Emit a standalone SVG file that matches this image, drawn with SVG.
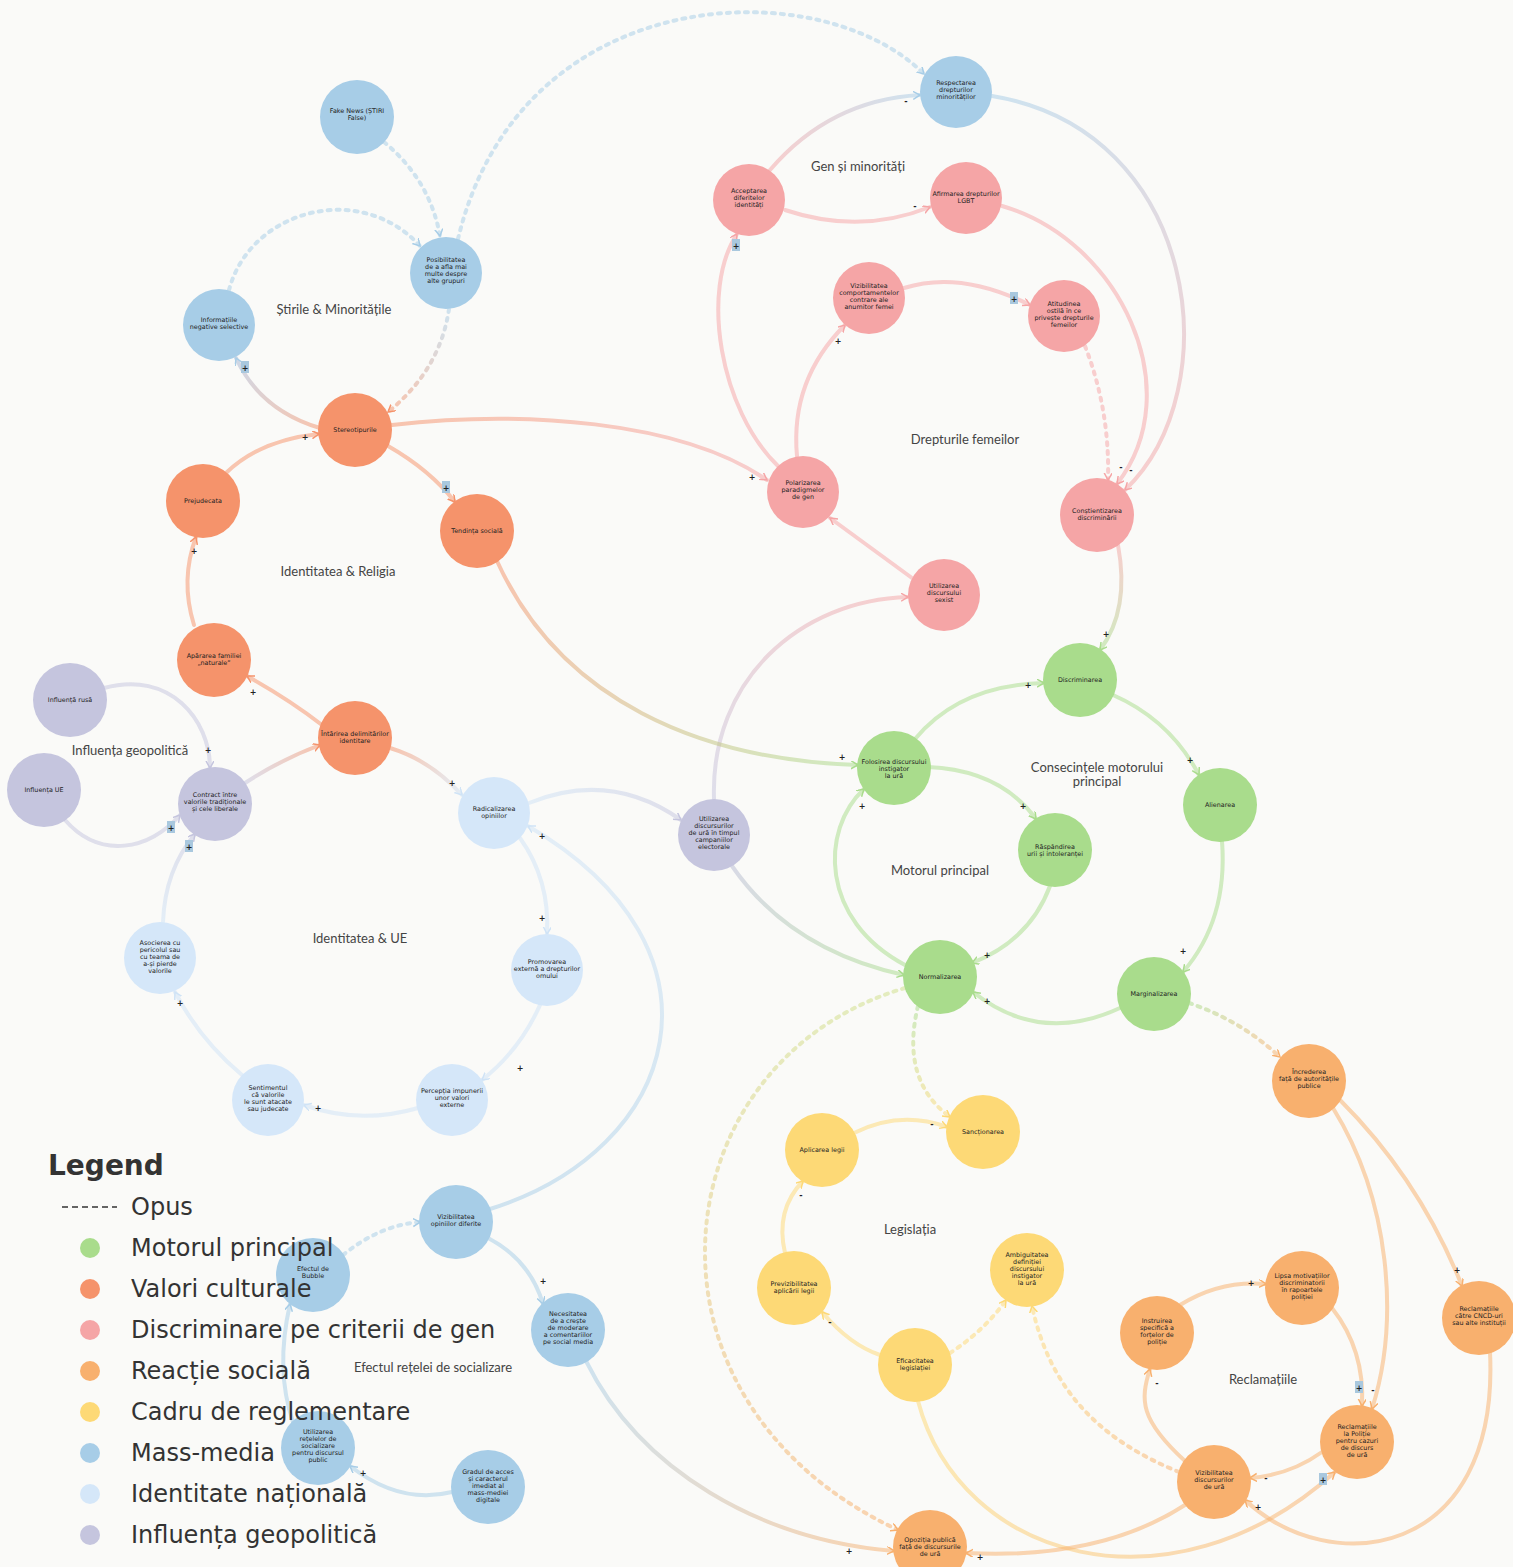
<svg xmlns="http://www.w3.org/2000/svg" width="1513" height="1567" viewBox="0 0 1513 1567">
<style>
.bg{fill:#fafaf8}
.e{fill:none;stroke-width:4;stroke-opacity:.52;stroke-linecap:round}
.d{stroke-dasharray:3 6}
.s1{stroke:#a9dc8c}.s2{stroke:#f5936b}.s3{stroke:#f5a5a6}.s4{stroke:#f8b06e}.s5{stroke:#fdd976}.s6{stroke:#a7cde7}.s7{stroke:#cfe3f6}.s8{stroke:#c5c5de}
.c1{fill:#a9dc8c}.c2{fill:#f5936b}.c3{fill:#f5a5a6}.c4{fill:#f8b06e}.c5{fill:#fdd976}.c6{fill:#a7cde7}.c7{fill:#d5e7f9}.c8{fill:#c5c5de}
.nt{font-family:"DejaVu Sans",Verdana,sans-serif;font-size:6.4px;fill:#222;text-anchor:middle}
.gl{font-family:Lato,"Open Sans",sans-serif;font-size:13px;fill:#444;text-anchor:middle}
.el{font-family:"DejaVu Sans",sans-serif;font-size:8px;font-weight:bold;fill:#222;text-anchor:middle}
.hl{fill:#a9c8de}
.lg{font-family:"DejaVu Sans",sans-serif;font-size:24px;fill:#333}
.lt{font-family:"DejaVu Sans",sans-serif;font-size:28px;font-weight:bold;fill:#333}
</style>
<defs>
<marker id="m1" markerUnits="userSpaceOnUse" markerWidth="10" markerHeight="10" refX="7" refY="4" orient="auto"><path d="M0,0 L7,4 L0,8" fill="none" stroke="#a9dc8c" stroke-width="1.5"/></marker>
<marker id="m2" markerUnits="userSpaceOnUse" markerWidth="10" markerHeight="10" refX="7" refY="4" orient="auto"><path d="M0,0 L7,4 L0,8" fill="none" stroke="#f5936b" stroke-width="1.5"/></marker>
<marker id="m3" markerUnits="userSpaceOnUse" markerWidth="10" markerHeight="10" refX="7" refY="4" orient="auto"><path d="M0,0 L7,4 L0,8" fill="none" stroke="#f5a5a6" stroke-width="1.5"/></marker>
<marker id="m4" markerUnits="userSpaceOnUse" markerWidth="10" markerHeight="10" refX="7" refY="4" orient="auto"><path d="M0,0 L7,4 L0,8" fill="none" stroke="#f8b06e" stroke-width="1.5"/></marker>
<marker id="m5" markerUnits="userSpaceOnUse" markerWidth="10" markerHeight="10" refX="7" refY="4" orient="auto"><path d="M0,0 L7,4 L0,8" fill="none" stroke="#fdd976" stroke-width="1.5"/></marker>
<marker id="m6" markerUnits="userSpaceOnUse" markerWidth="10" markerHeight="10" refX="7" refY="4" orient="auto"><path d="M0,0 L7,4 L0,8" fill="none" stroke="#a7cde7" stroke-width="1.5"/></marker>
<marker id="m7" markerUnits="userSpaceOnUse" markerWidth="10" markerHeight="10" refX="7" refY="4" orient="auto"><path d="M0,0 L7,4 L0,8" fill="none" stroke="#cfe3f6" stroke-width="1.5"/></marker>
<marker id="m8" markerUnits="userSpaceOnUse" markerWidth="10" markerHeight="10" refX="7" refY="4" orient="auto"><path d="M0,0 L7,4 L0,8" fill="none" stroke="#c5c5de" stroke-width="1.5"/></marker>
<linearGradient id="g3" gradientUnits="userSpaceOnUse" x1="449" y1="309" x2="388" y2="412"><stop offset="0" stop-color="#a7cde7"/><stop offset="1" stop-color="#f5936b"/></linearGradient>
<linearGradient id="g5" gradientUnits="userSpaceOnUse" x1="320" y1="428" x2="236" y2="358"><stop offset="0" stop-color="#f5936b"/><stop offset="1" stop-color="#a7b9d7"/></linearGradient>
<linearGradient id="g6" gradientUnits="userSpaceOnUse" x1="770" y1="170" x2="920" y2="95"><stop offset="0" stop-color="#f5a5a6"/><stop offset="1" stop-color="#a7cde7"/></linearGradient>
<linearGradient id="g8" gradientUnits="userSpaceOnUse" x1="992" y1="96" x2="1125" y2="490"><stop offset="0" stop-color="#a7cde7"/><stop offset="1" stop-color="#f5a5a6"/></linearGradient>
<linearGradient id="g14" gradientUnits="userSpaceOnUse" x1="392" y1="425" x2="767" y2="480"><stop offset="0" stop-color="#f5936b"/><stop offset="1" stop-color="#f5a5a6"/></linearGradient>
<linearGradient id="g16" gradientUnits="userSpaceOnUse" x1="714" y1="799" x2="908" y2="597"><stop offset="0" stop-color="#c5c5de"/><stop offset="1" stop-color="#f5a5a6"/></linearGradient>
<linearGradient id="g17" gradientUnits="userSpaceOnUse" x1="1118" y1="545" x2="1100" y2="650"><stop offset="0" stop-color="#f5a5a6"/><stop offset="1" stop-color="#a9dc8c"/></linearGradient>
<linearGradient id="g22" gradientUnits="userSpaceOnUse" x1="497" y1="561" x2="858" y2="765"><stop offset="0" stop-color="#f5936b"/><stop offset="1" stop-color="#a9dc8c"/></linearGradient>
<linearGradient id="g23" gradientUnits="userSpaceOnUse" x1="245" y1="783" x2="320" y2="745"><stop offset="0" stop-color="#c5c5de"/><stop offset="1" stop-color="#f5936b"/></linearGradient>
<linearGradient id="g24" gradientUnits="userSpaceOnUse" x1="390" y1="748" x2="462" y2="795"><stop offset="0" stop-color="#f5936b"/><stop offset="1" stop-color="#cfe3f6"/></linearGradient>
<linearGradient id="g27" gradientUnits="userSpaceOnUse" x1="163" y1="922" x2="195" y2="834"><stop offset="0" stop-color="#cfe3f6"/><stop offset="1" stop-color="#c5c5de"/></linearGradient>
<linearGradient id="g28" gradientUnits="userSpaceOnUse" x1="529" y1="803" x2="681" y2="820"><stop offset="0" stop-color="#cfe3f6"/><stop offset="1" stop-color="#c5c5de"/></linearGradient>
<linearGradient id="g40" gradientUnits="userSpaceOnUse" x1="732" y1="866" x2="904" y2="975"><stop offset="0" stop-color="#b9bcd4"/><stop offset="1" stop-color="#a9dc8c"/></linearGradient>
<linearGradient id="g41" gradientUnits="userSpaceOnUse" x1="1189" y1="1003" x2="1280" y2="1057"><stop offset="0" stop-color="#a9dc8c"/><stop offset="1" stop-color="#f8b06e"/></linearGradient>
<linearGradient id="g42" gradientUnits="userSpaceOnUse" x1="918" y1="1006" x2="950" y2="1117"><stop offset="0" stop-color="#a9dc8c"/><stop offset="1" stop-color="#fdd976"/></linearGradient>
<linearGradient id="g43" gradientUnits="userSpaceOnUse" x1="905" y1="988" x2="898" y2="1530"><stop offset="0" stop-color="#cfe08a"/><stop offset="1" stop-color="#f8b06e"/></linearGradient>
<linearGradient id="g48" gradientUnits="userSpaceOnUse" x1="1179" y1="1472" x2="1032" y2="1306"><stop offset="0" stop-color="#f8b06e"/><stop offset="1" stop-color="#fdd976"/></linearGradient>
<linearGradient id="g49" gradientUnits="userSpaceOnUse" x1="918" y1="1401" x2="1335" y2="1472"><stop offset="0" stop-color="#fdd976"/><stop offset="1" stop-color="#f8b06e"/></linearGradient>
<linearGradient id="g62" gradientUnits="userSpaceOnUse" x1="490" y1="1209" x2="528" y2="826"><stop offset="0" stop-color="#a7cde7"/><stop offset="1" stop-color="#cfe3f6"/></linearGradient>
<linearGradient id="g63" gradientUnits="userSpaceOnUse" x1="586" y1="1361" x2="894" y2="1551"><stop offset="0" stop-color="#a7cde7"/><stop offset="1" stop-color="#f8b06e"/></linearGradient>
</defs>
<rect class="bg" x="0" y="0" width="1513" height="1567"/>

<g id="connectors">
<path class="e d s6" d="M384 142 Q430 180 440 236" marker-end="url(#m6)"/>
<path class="e d s6" d="M229 290 C250 210 360 180 420 246" marker-end="url(#m6)"/>
<path class="e d" stroke="url(#g3)" d="M449 309 Q440 370 388 412" marker-end="url(#m2)"/>
<path class="e d s6" d="M458 239 C520 -20 820 -30 924 74" marker-end="url(#m6)"/>
<path class="e" stroke="url(#g5)" d="M320 428 Q260 410 236 358" marker-end="url(#m6)"/>
<path class="e" stroke="url(#g6)" d="M770 170 Q830 100 920 95" marker-end="url(#m6)"/>
<path class="e s3" d="M785 210 Q860 235 930 207" marker-end="url(#m3)"/>
<path class="e" stroke="url(#g8)" d="M992 96 C1200 130 1230 390 1125 490" marker-end="url(#m3)"/>
<path class="e s3" d="M1002 206 C1120 240 1190 390 1117 484" marker-end="url(#m3)"/>
<path class="e s3" d="M778 466 C720 410 700 290 737 234" marker-end="url(#m3)"/>
<path class="e s3" d="M797 456 Q790 380 845 325" marker-end="url(#m3)"/>
<path class="e s3" d="M904 288 Q960 270 1030 305" marker-end="url(#m3)"/>
<path class="e d s3" d="M1085 346 Q1110 410 1108 480" marker-end="url(#m3)"/>
<path class="e" stroke="url(#g14)" d="M392 425 C520 410 680 420 767 480" marker-end="url(#m3)"/>
<path class="e s3" d="M912 578 Q860 540 830 518" marker-end="url(#m3)"/>
<path class="e" stroke="url(#g16)" d="M714 799 C710 680 800 600 908 597" marker-end="url(#m3)"/>
<path class="e" stroke="url(#g17)" d="M1118 545 Q1130 610 1100 650" marker-end="url(#m1)"/>
<path class="e s2" d="M226 473 Q260 440 319 434" marker-end="url(#m2)"/>
<path class="e s2" d="M388 446 Q430 470 455 502" marker-end="url(#m2)"/>
<path class="e s2" d="M194 625 Q180 580 196 537" marker-end="url(#m2)"/>
<path class="e s2" d="M322 725 Q290 700 247 676" marker-end="url(#m2)"/>
<path class="e" stroke="url(#g22)" d="M497 561 C560 700 700 760 858 765" marker-end="url(#m1)"/>
<path class="e" stroke="url(#g23)" d="M245 783 Q280 760 320 745" marker-end="url(#m2)"/>
<path class="e" stroke="url(#g24)" d="M390 748 Q430 760 462 795" marker-end="url(#m7)"/>
<path class="e s8" d="M104 688 C170 670 210 720 210 768" marker-end="url(#m8)"/>
<path class="e s8" d="M65 820 C100 860 150 850 180 815" marker-end="url(#m8)"/>
<path class="e" stroke="url(#g27)" d="M163 922 Q165 870 195 834" marker-end="url(#m8)"/>
<path class="e" stroke="url(#g28)" d="M529 803 Q610 770 681 820" marker-end="url(#m8)"/>
<path class="e s7" d="M520 838 Q550 880 547 934" marker-end="url(#m7)"/>
<path class="e s7" d="M540 1005 Q520 1050 482 1080" marker-end="url(#m7)"/>
<path class="e s7" d="M418 1108 Q360 1125 304 1105" marker-end="url(#m7)"/>
<path class="e s7" d="M242 1075 Q200 1040 175 992" marker-end="url(#m7)"/>
<path class="e s1" d="M915 739 Q960 685 1044 683" marker-end="url(#m1)"/>
<path class="e s1" d="M1113 695 Q1170 720 1199 775" marker-end="url(#m1)"/>
<path class="e s1" d="M1222 841 Q1228 920 1183 972" marker-end="url(#m1)"/>
<path class="e s1" d="M1120 1008 Q1040 1045 973 992" marker-end="url(#m1)"/>
<path class="e s1" d="M928 767 Q1000 770 1036 819" marker-end="url(#m1)"/>
<path class="e s1" d="M1050 886 Q1030 940 972 963" marker-end="url(#m1)"/>
<path class="e s1" d="M905 965 C820 920 820 830 864 789" marker-end="url(#m1)"/>
<path class="e" stroke="url(#g40)" d="M732 866 Q790 950 904 975" marker-end="url(#m1)"/>
<path class="e d" stroke="url(#g41)" d="M1189 1003 Q1240 1020 1280 1057" marker-end="url(#m4)"/>
<path class="e d" stroke="url(#g42)" d="M918 1006 Q900 1080 950 1117" marker-end="url(#m5)"/>
<path class="e d" stroke="url(#g43)" d="M905 988 C660 1060 620 1400 898 1530" marker-end="url(#m4)"/>
<path class="e s5" d="M854 1133 Q900 1110 947 1127" marker-end="url(#m5)"/>
<path class="e s5" d="M785 1253 Q775 1210 803 1181" marker-end="url(#m5)"/>
<path class="e s5" d="M880 1355 Q850 1345 822 1312" marker-end="url(#m5)"/>
<path class="e d s5" d="M950 1353 Q985 1330 1006 1300" marker-end="url(#m5)"/>
<path class="e d" stroke="url(#g48)" d="M1179 1472 C1100 1440 1050 1390 1032 1306" marker-end="url(#m5)"/>
<path class="e" stroke="url(#g49)" d="M918 1401 C960 1560 1170 1620 1335 1472" marker-end="url(#m4)"/>
<path class="e s4" d="M1180 1305 Q1220 1280 1266 1284" marker-end="url(#m4)"/>
<path class="e s4" d="M1332 1308 Q1365 1350 1362 1406" marker-end="url(#m4)"/>
<path class="e s4" d="M1333 1108 C1390 1200 1400 1320 1372 1409" marker-end="url(#m4)"/>
<path class="e s4" d="M1340 1100 Q1420 1180 1462 1286" marker-end="url(#m4)"/>
<path class="e s4" d="M1490 1352 C1500 1560 1330 1580 1245 1500" marker-end="url(#m4)"/>
<path class="e s4" d="M1322 1452 Q1290 1475 1250 1478" marker-end="url(#m4)"/>
<path class="e s4" d="M1185 1461 C1140 1420 1140 1400 1150 1369" marker-end="url(#m4)"/>
<path class="e s4" d="M1185 1505 Q1100 1560 966 1553" marker-end="url(#m4)"/>
<path class="e d s6" d="M343 1255 Q380 1225 420 1222" marker-end="url(#m6)"/>
<path class="e s6" d="M488 1238 Q530 1260 543 1304" marker-end="url(#m6)"/>
<path class="e s6" d="M293 1422 Q275 1370 290 1304" marker-end="url(#m6)"/>
<path class="e s6" d="M452 1492 Q400 1505 350 1466" marker-end="url(#m6)"/>
<path class="e" stroke="url(#g62)" d="M490 1209 C680 1150 740 950 528 826" marker-end="url(#m7)"/>
<path class="e" stroke="url(#g63)" d="M586 1361 C640 1470 760 1540 894 1551" marker-end="url(#m4)"/>
</g>

<g id="nodes">
<g id="n-fake-news"><circle class="c6" cx="357" cy="117" r="37"/><text class="nt" x="357" y="113">Fake News (ȘTIRI<tspan x="357" dy="7">False)</tspan></text></g>
<g id="n-posibilitatea"><circle class="c6" cx="446" cy="273" r="36"/><text class="nt" x="446" y="262">Posibilitatea<tspan x="446" dy="7">de a afla mai</tspan><tspan x="446" dy="7">multe despre</tspan><tspan x="446" dy="7">alte grupuri</tspan></text></g>
<g id="n-informatiile"><circle class="c6" cx="219" cy="325" r="36"/><text class="nt" x="219" y="322">Informațiile<tspan x="219" dy="7">negative selective</tspan></text></g>
<g id="n-respectarea"><circle class="c6" cx="956" cy="92" r="36"/><text class="nt" x="956" y="85">Respectarea<tspan x="956" dy="7">drepturilor</tspan><tspan x="956" dy="7">minorităților</tspan></text></g>
<g id="n-acceptarea"><circle class="c3" cx="749" cy="200" r="36"/><text class="nt" x="749" y="193">Acceptarea<tspan x="749" dy="7">diferitelor</tspan><tspan x="749" dy="7">identități</tspan></text></g>
<g id="n-afirmarea"><circle class="c3" cx="966" cy="198" r="36"/><text class="nt" x="966" y="196">Afirmarea drepturilor<tspan x="966" dy="7">LGBT</tspan></text></g>
<g id="n-vizibilitatea-comp"><circle class="c3" cx="869" cy="298" r="36"/><text class="nt" x="869" y="288">Vizibilitatea<tspan x="869" dy="7">comportamentelor</tspan><tspan x="869" dy="7">contrare ale</tspan><tspan x="869" dy="7">anumitor femei</tspan></text></g>
<g id="n-atitudinea"><circle class="c3" cx="1064" cy="316" r="36"/><text class="nt" x="1064" y="306">Atitudinea<tspan x="1064" dy="7">ostilă în ce</tspan><tspan x="1064" dy="7">privește drepturile</tspan><tspan x="1064" dy="7">femeilor</tspan></text></g>
<g id="n-polarizarea"><circle class="c3" cx="803" cy="492" r="36"/><text class="nt" x="803" y="485">Polarizarea<tspan x="803" dy="7">paradigmelor</tspan><tspan x="803" dy="7">de gen</tspan></text></g>
<g id="n-constientizarea"><circle class="c3" cx="1097" cy="515" r="37"/><text class="nt" x="1097" y="513">Conștientizarea<tspan x="1097" dy="7">discriminării</tspan></text></g>
<g id="n-discurs-sexist"><circle class="c3" cx="944" cy="595" r="36"/><text class="nt" x="944" y="588">Utilizarea<tspan x="944" dy="7">discursului</tspan><tspan x="944" dy="7">sexist</tspan></text></g>
<g id="n-stereotipurile"><circle class="c2" cx="355" cy="430" r="37"/><text class="nt" x="355" y="432">Stereotipurile</text></g>
<g id="n-prejudecata"><circle class="c2" cx="203" cy="501" r="37"/><text class="nt" x="203" y="503">Prejudecata</text></g>
<g id="n-tendinta"><circle class="c2" cx="477" cy="531" r="37"/><text class="nt" x="477" y="533">Tendința socială</text></g>
<g id="n-apararea"><circle class="c2" cx="214" cy="660" r="37"/><text class="nt" x="214" y="658">Apărarea familiei<tspan x="214" dy="7">„naturale”</tspan></text></g>
<g id="n-intarirea"><circle class="c2" cx="355" cy="738" r="37"/><text class="nt" x="355" y="736">Întărirea delimitărilor<tspan x="355" dy="7">identitare</tspan></text></g>
<g id="n-influenta-rusa"><circle class="c8" cx="70" cy="700" r="37"/><text class="nt" x="70" y="702">Influență rusă</text></g>
<g id="n-influenta-ue"><circle class="c8" cx="44" cy="790" r="37"/><text class="nt" x="44" y="792">Influența UE</text></g>
<g id="n-contract"><circle class="c8" cx="215" cy="804" r="37"/><text class="nt" x="215" y="797">Contract între<tspan x="215" dy="7">valorile tradiționale</tspan><tspan x="215" dy="7">și cele liberale</tspan></text></g>
<g id="n-discurs-electoral"><circle class="c8" cx="714" cy="835" r="36"/><text class="nt" x="714" y="821">Utilizarea<tspan x="714" dy="7">discursurilor</tspan><tspan x="714" dy="7">de ură în timpul</tspan><tspan x="714" dy="7">campaniilor</tspan><tspan x="714" dy="7">electorale</tspan></text></g>
<g id="n-radicalizarea"><circle class="c7" cx="494" cy="813" r="36"/><text class="nt" x="494" y="811">Radicalizarea<tspan x="494" dy="7">opiniilor</tspan></text></g>
<g id="n-promovarea"><circle class="c7" cx="547" cy="970" r="36"/><text class="nt" x="547" y="964">Promovarea<tspan x="547" dy="7">externă a drepturilor</tspan><tspan x="547" dy="7">omului</tspan></text></g>
<g id="n-perceptia"><circle class="c7" cx="452" cy="1100" r="36"/><text class="nt" x="452" y="1093">Percepția impunerii<tspan x="452" dy="7">unor valori</tspan><tspan x="452" dy="7">externe</tspan></text></g>
<g id="n-sentimentul"><circle class="c7" cx="268" cy="1100" r="36"/><text class="nt" x="268" y="1090">Sentimentul<tspan x="268" dy="7">că valorile</tspan><tspan x="268" dy="7">le sunt atacate</tspan><tspan x="268" dy="7">sau judecate</tspan></text></g>
<g id="n-asocierea"><circle class="c7" cx="160" cy="958" r="36"/><text class="nt" x="160" y="945">Asocierea cu<tspan x="160" dy="7">pericolul sau</tspan><tspan x="160" dy="7">cu teama de</tspan><tspan x="160" dy="7">a-și pierde</tspan><tspan x="160" dy="7">valorile</tspan></text></g>
<g id="n-discriminarea"><circle class="c1" cx="1080" cy="680" r="37"/><text class="nt" x="1080" y="682">Discriminarea</text></g>
<g id="n-folosirea"><circle class="c1" cx="894" cy="768" r="37"/><text class="nt" x="894" y="764">Folosirea discursului<tspan x="894" dy="7">instigator</tspan><tspan x="894" dy="7">la ură</tspan></text></g>
<g id="n-alienarea"><circle class="c1" cx="1220" cy="805" r="37"/><text class="nt" x="1220" y="807">Alienarea</text></g>
<g id="n-raspandirea"><circle class="c1" cx="1055" cy="850" r="37"/><text class="nt" x="1055" y="849">Răspândirea<tspan x="1055" dy="7">urii și intoleranței</tspan></text></g>
<g id="n-normalizarea"><circle class="c1" cx="940" cy="977" r="37"/><text class="nt" x="940" y="979">Normalizarea</text></g>
<g id="n-marginalizarea"><circle class="c1" cx="1154" cy="994" r="37"/><text class="nt" x="1154" y="996">Marginalizarea</text></g>
<g id="n-aplicarea"><circle class="c5" cx="822" cy="1150" r="37"/><text class="nt" x="822" y="1152">Aplicarea legii</text></g>
<g id="n-sanctionarea"><circle class="c5" cx="983" cy="1132" r="37"/><text class="nt" x="983" y="1134">Sancționarea</text></g>
<g id="n-previzibilitatea"><circle class="c5" cx="794" cy="1288" r="37"/><text class="nt" x="794" y="1286">Previzibilitatea<tspan x="794" dy="7">aplicării legii</tspan></text></g>
<g id="n-ambiguitatea"><circle class="c5" cx="1027" cy="1270" r="37"/><text class="nt" x="1027" y="1257">Ambiguitatea<tspan x="1027" dy="7">definiției</tspan><tspan x="1027" dy="7">discursului</tspan><tspan x="1027" dy="7">instigator</tspan><tspan x="1027" dy="7">la ură</tspan></text></g>
<g id="n-eficacitatea"><circle class="c5" cx="915" cy="1365" r="37"/><text class="nt" x="915" y="1363">Eficacitatea<tspan x="915" dy="7">legislației</tspan></text></g>
<g id="n-increderea"><circle class="c4" cx="1309" cy="1081" r="37"/><text class="nt" x="1309" y="1074">Încrederea<tspan x="1309" dy="7">față de autoritățile</tspan><tspan x="1309" dy="7">publice</tspan></text></g>
<g id="n-lipsa"><circle class="c4" cx="1302" cy="1288" r="37"/><text class="nt" x="1302" y="1278">Lipsa motivațiilor<tspan x="1302" dy="7">discriminatorii</tspan><tspan x="1302" dy="7">în rapoartele</tspan><tspan x="1302" dy="7">poliției</tspan></text></g>
<g id="n-instruirea"><circle class="c4" cx="1157" cy="1333" r="37"/><text class="nt" x="1157" y="1323">Instruirea<tspan x="1157" dy="7">specifică a</tspan><tspan x="1157" dy="7">forțelor de</tspan><tspan x="1157" dy="7">poliție</tspan></text></g>
<g id="n-reclamatii-cncd"><circle class="c4" cx="1479" cy="1318" r="37"/><text class="nt" x="1479" y="1311">Reclamațiile<tspan x="1479" dy="7">către CNCD-uri</tspan><tspan x="1479" dy="7">sau alte instituții</tspan></text></g>
<g id="n-reclamatii-politie"><circle class="c4" cx="1357" cy="1442" r="37"/><text class="nt" x="1357" y="1429">Reclamațiile<tspan x="1357" dy="7">la Poliție</tspan><tspan x="1357" dy="7">pentru cazuri</tspan><tspan x="1357" dy="7">de discurs</tspan><tspan x="1357" dy="7">de ură</tspan></text></g>
<g id="n-vizibilitatea-discursurilor"><circle class="c4" cx="1214" cy="1482" r="37"/><text class="nt" x="1214" y="1475">Vizibilitatea<tspan x="1214" dy="7">discursurilor</tspan><tspan x="1214" dy="7">de ură</tspan></text></g>
<g id="n-opozitia"><circle class="c4" cx="930" cy="1547" r="37"/><text class="nt" x="930" y="1542">Opoziția publică<tspan x="930" dy="7">față de discursurile</tspan><tspan x="930" dy="7">de ură</tspan></text></g>
<g id="n-vizibilitatea-opiniilor"><circle class="c6" cx="456" cy="1222" r="37"/><text class="nt" x="456" y="1219">Vizibilitatea<tspan x="456" dy="7">opiniilor diferite</tspan></text></g>
<g id="n-efectul-bula"><circle class="c6" cx="313" cy="1275" r="37"/><text class="nt" x="313" y="1271">Efectul de<tspan x="313" dy="7">Bubble</tspan></text></g>
<g id="n-necesitatea"><circle class="c6" cx="568" cy="1330" r="37"/><text class="nt" x="568" y="1316">Necesitatea<tspan x="568" dy="7">de a crește</tspan><tspan x="568" dy="7">de moderare</tspan><tspan x="568" dy="7">a comentariilor</tspan><tspan x="568" dy="7">pe social media</tspan></text></g>
<g id="n-utilizarea-retelelor"><circle class="c6" cx="318" cy="1448" r="37"/><text class="nt" x="318" y="1434">Utilizarea<tspan x="318" dy="7">rețelelor de</tspan><tspan x="318" dy="7">socializare</tspan><tspan x="318" dy="7">pentru discursul</tspan><tspan x="318" dy="7">public</tspan></text></g>
<g id="n-gradul"><circle class="c6" cx="488" cy="1487" r="37"/><text class="nt" x="488" y="1474">Gradul de acces<tspan x="488" dy="7">și caracterul</tspan><tspan x="488" dy="7">imediat al</tspan><tspan x="488" dy="7">mass-mediei</tspan><tspan x="488" dy="7">digitale</tspan></text></g>
</g>

<g id="group-labels">
<text class="gl" x="334" y="314">Știrile &amp; Minoritățile</text>
<text class="gl" x="858" y="171">Gen și minorități</text>
<text class="gl" x="965" y="444">Drepturile femeilor</text>
<text class="gl" x="338" y="576">Identitatea &amp; Religia</text>
<text class="gl" x="130" y="755">Influența geopolitică</text>
<text class="gl" x="360" y="943">Identitatea &amp; UE</text>
<text class="gl" x="1097" y="772">Consecințele motorului<tspan x="1097" dy="14">principal</tspan></text>
<text class="gl" x="940" y="875">Motorul principal</text>
<text class="gl" x="910" y="1234">Legislația</text>
<text class="gl" x="1263" y="1384">Reclamațiile</text>
<text class="gl" x="433" y="1372">Efectul rețelei de socializare</text>
</g>

<g id="edge-labels">
<rect class="hl" x="241" y="361" width="8" height="12"/><text class="el" x="245" y="371">+</text>
<text class="el" x="906" y="104">-</text>
<text class="el" x="915" y="209">-</text>
<text class="el" x="1131" y="473">-</text>
<text class="el" x="1121" y="470">-</text>
<rect class="hl" x="732" y="239" width="8" height="12"/><text class="el" x="736" y="249">+</text>
<text class="el" x="838" y="344">+</text>
<rect class="hl" x="1010" y="292" width="8" height="12"/><text class="el" x="1014" y="302">+</text>
<text class="el" x="752" y="480">+</text>
<text class="el" x="1106" y="637">+</text>
<text class="el" x="305" y="440">+</text>
<rect class="hl" x="442" y="481" width="8" height="12"/><text class="el" x="446" y="491">+</text>
<text class="el" x="194" y="554">+</text>
<text class="el" x="253" y="695">+</text>
<text class="el" x="842" y="760">+</text>
<text class="el" x="452" y="786">+</text>
<text class="el" x="208" y="753">+</text>
<rect class="hl" x="167" y="821" width="8" height="12"/><text class="el" x="171" y="831">+</text>
<rect class="hl" x="185" y="840" width="8" height="12"/><text class="el" x="189" y="850">+</text>
<text class="el" x="542" y="921">+</text>
<text class="el" x="520" y="1071">+</text>
<text class="el" x="318" y="1111">+</text>
<text class="el" x="180" y="1006">+</text>
<text class="el" x="1028" y="688">+</text>
<text class="el" x="1190" y="763">+</text>
<text class="el" x="1183" y="954">+</text>
<text class="el" x="987" y="1004">+</text>
<text class="el" x="1023" y="809">+</text>
<text class="el" x="987" y="958">+</text>
<text class="el" x="862" y="809">+</text>
<text class="el" x="932" y="1127">-</text>
<text class="el" x="801" y="1198">-</text>
<text class="el" x="830" y="1325">-</text>
<rect class="hl" x="1319" y="1473" width="8" height="12"/><text class="el" x="1323" y="1483">+</text>
<text class="el" x="1251" y="1286">+</text>
<rect class="hl" x="1355" y="1381" width="8" height="12"/><text class="el" x="1359" y="1391">+</text>
<text class="el" x="1373" y="1393">-</text>
<text class="el" x="1457" y="1273">+</text>
<text class="el" x="1258" y="1510">+</text>
<text class="el" x="1266" y="1481">-</text>
<text class="el" x="1157" y="1386">-</text>
<text class="el" x="980" y="1560">+</text>
<text class="el" x="543" y="1284">+</text>
<text class="el" x="363" y="1476">+</text>
<text class="el" x="542" y="839">+</text>
<text class="el" x="849" y="1554">+</text>
</g>

<g id="legend">
<text class="lt" x="48" y="1175">Legend</text>
<line x1="62" y1="1207" x2="117" y2="1207" stroke="#333" stroke-width="1.5" stroke-dasharray="6 4"/>
<text class="lg" x="131" y="1215">Opus</text>
<circle class="c1" cx="90" cy="1248" r="10"/><text class="lg" x="131" y="1256">Motorul principal</text>
<circle class="c2" cx="90" cy="1289" r="10"/><text class="lg" x="131" y="1297">Valori culturale</text>
<circle class="c3" cx="90" cy="1330" r="10"/><text class="lg" x="131" y="1338">Discriminare pe criterii de gen</text>
<circle class="c4" cx="90" cy="1371" r="10"/><text class="lg" x="131" y="1379">Reacție socială</text>
<circle class="c5" cx="90" cy="1412" r="10"/><text class="lg" x="131" y="1420">Cadru de reglementare</text>
<circle class="c6" cx="90" cy="1453" r="10"/><text class="lg" x="131" y="1461">Mass-media</text>
<circle class="c7" cx="90" cy="1494" r="10"/><text class="lg" x="131" y="1502">Identitate națională</text>
<circle class="c8" cx="90" cy="1535" r="10"/><text class="lg" x="131" y="1543">Influența geopolitică</text>
</g>
</svg>
